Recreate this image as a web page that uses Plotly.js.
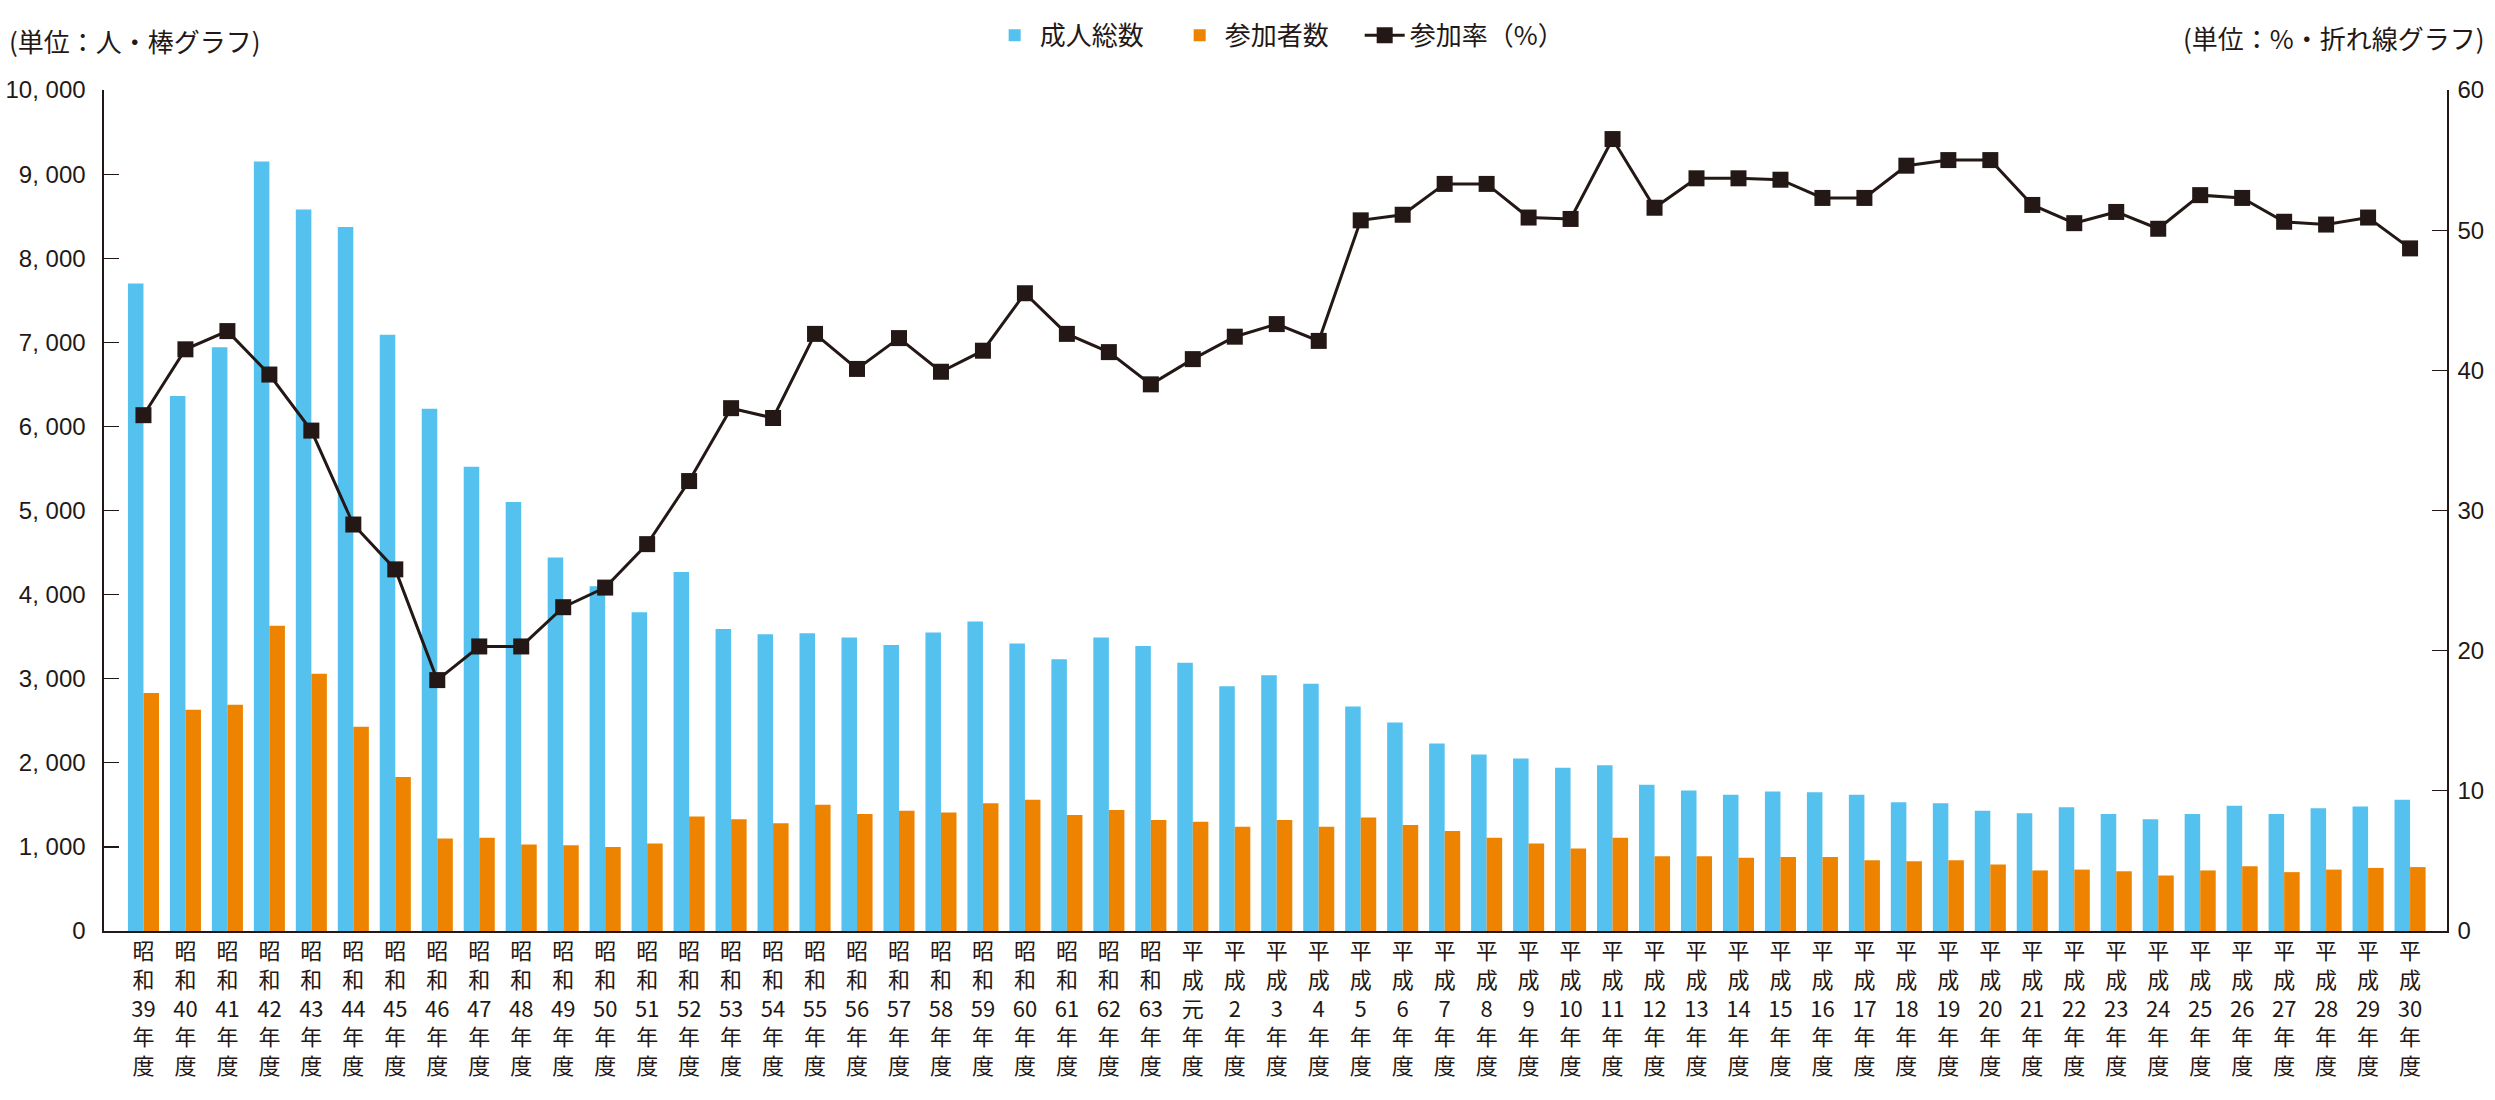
<!DOCTYPE html>
<html>
<head>
<meta charset="utf-8">
<script src="https://cdn.plot.ly/plotly-3.0.1.min.js"></script>
<style>
html,body{margin:0;padding:0;background:#fff;}
#chart{width:2495px;height:1100px;}
</style>
</head>
<body>
<div id="chart"></div>
<script>
const categories = [
  "昭<br>和<br>39<br>年<br>度","昭<br>和<br>40<br>年<br>度","昭<br>和<br>41<br>年<br>度","昭<br>和<br>42<br>年<br>度","昭<br>和<br>43<br>年<br>度",
  "昭<br>和<br>44<br>年<br>度","昭<br>和<br>45<br>年<br>度","昭<br>和<br>46<br>年<br>度","昭<br>和<br>47<br>年<br>度","昭<br>和<br>48<br>年<br>度",
  "昭<br>和<br>49<br>年<br>度","昭<br>和<br>50<br>年<br>度","昭<br>和<br>51<br>年<br>度","昭<br>和<br>52<br>年<br>度","昭<br>和<br>53<br>年<br>度",
  "昭<br>和<br>54<br>年<br>度","昭<br>和<br>55<br>年<br>度","昭<br>和<br>56<br>年<br>度","昭<br>和<br>57<br>年<br>度","昭<br>和<br>58<br>年<br>度",
  "昭<br>和<br>59<br>年<br>度","昭<br>和<br>60<br>年<br>度","昭<br>和<br>61<br>年<br>度","昭<br>和<br>62<br>年<br>度","昭<br>和<br>63<br>年<br>度",
  "平<br>成<br>元<br>年<br>度","平<br>成<br>2<br>年<br>度","平<br>成<br>3<br>年<br>度","平<br>成<br>4<br>年<br>度","平<br>成<br>5<br>年<br>度",
  "平<br>成<br>6<br>年<br>度","平<br>成<br>7<br>年<br>度","平<br>成<br>8<br>年<br>度","平<br>成<br>9<br>年<br>度","平<br>成<br>10<br>年<br>度",
  "平<br>成<br>11<br>年<br>度","平<br>成<br>12<br>年<br>度","平<br>成<br>13<br>年<br>度","平<br>成<br>14<br>年<br>度","平<br>成<br>15<br>年<br>度",
  "平<br>成<br>16<br>年<br>度","平<br>成<br>17<br>年<br>度","平<br>成<br>18<br>年<br>度","平<br>成<br>19<br>年<br>度","平<br>成<br>20<br>年<br>度",
  "平<br>成<br>21<br>年<br>度","平<br>成<br>22<br>年<br>度","平<br>成<br>23<br>年<br>度","平<br>成<br>24<br>年<br>度","平<br>成<br>25<br>年<br>度",
  "平<br>成<br>26<br>年<br>度","平<br>成<br>27<br>年<br>度","平<br>成<br>28<br>年<br>度","平<br>成<br>29<br>年<br>度","平<br>成<br>30<br>年<br>度"
];

const adultsTotal = [
  7700, 6360, 6940, 9150, 8580, 8370, 7090, 6210, 5520, 5100,
  4440, 4100, 3790, 4270, 3590, 3530, 3540, 3490, 3400, 3550,
  3680, 3420, 3230, 3490, 3390, 3190, 2910, 3040, 2940, 2670,
  2480, 2230, 2100, 2050, 1940, 1970, 1740, 1670, 1620, 1660,
  1650, 1620, 1530, 1520, 1430, 1400, 1470, 1390, 1330, 1390,
  1490, 1390, 1460, 1480, 1560
];

const participants = [
  2830, 2630, 2690, 3630, 3060, 2430, 1830, 1100, 1110, 1030,
  1020, 1000, 1040, 1360, 1330, 1280, 1500, 1390, 1430, 1410,
  1520, 1560, 1380, 1440, 1320, 1300, 1240, 1320, 1240, 1350,
  1260, 1190, 1110, 1040, 980, 1110, 890, 890, 870, 880,
  880, 840, 830, 840, 790, 720, 730, 710, 660, 720,
  770, 700, 730, 750, 760
];

const participationRate = [
  36.8, 41.5, 42.8, 39.7, 35.7, 29.0, 25.8, 17.9, 20.3, 20.3,
  23.1, 24.5, 27.6, 32.1, 37.3, 36.6, 42.6, 40.1, 42.3, 39.9,
  41.4, 45.5, 42.6, 41.3, 39.0, 40.8, 42.4, 43.3, 42.1, 50.7,
  51.1, 53.3, 53.3, 50.9, 50.8, 56.5, 51.6, 53.7, 53.7, 53.6,
  52.3, 52.3, 54.6, 55.0, 55.0, 51.8, 50.5, 51.3, 50.1, 52.5,
  52.3, 50.6, 50.4, 50.9, 48.7
];

const leftTickVals = [0,1000,2000,3000,4000,5000,6000,7000,8000,9000,10000];
const leftTickText = ["0","1, 000","2, 000","3, 000","4, 000","5, 000","6, 000","7, 000","8, 000","9, 000","10, 000"];
const rightTickVals = [0,10,20,30,40,50,60];

const seriesNames = ["成人総数","参加者数","参加率（%）"];
const unitLeft = "(単位：人・棒グラフ)";
const unitRight = "(単位：%・折れ線グラフ)";

const jp = '"Noto Sans CJK JP", "Noto Sans", sans-serif';
const num = '"Liberation Sans", "Noto Sans", sans-serif';
const ink = '#231815';
const pad = '\u2002\u2002';

const traces = [
  {type:'bar', name:seriesNames[0] + pad, x:categories, y:adultsTotal,
   marker:{color:'#55C1EF'}, yaxis:'y', hoverinfo:'y'},
  {type:'bar', name:seriesNames[1] + pad, x:categories, y:participants,
   marker:{color:'#EE8300'}, yaxis:'y', hoverinfo:'y'},
  {type:'scatter', mode:'lines+markers', name:seriesNames[2], x:categories, y:participationRate,
   yaxis:'y2', line:{color:ink, width:3}, marker:{symbol:'square', size:16, color:ink}}
];

const layout = {
  width:2495, height:1100,
  margin:{l:104, r:48, t:86, b:169},
  paper_bgcolor:'#fff', plot_bgcolor:'#fff',
  font:{family:jp, size:24, color:ink},
  barmode:'group', bargap:0.26, bargroupgap:0,
  showlegend:true,
  legend:{orientation:'h', x:0.378, xanchor:'left', y:1.065, yanchor:'middle',
          font:{family:jp, size:26, color:ink}, traceorder:'normal', itemwidth:40},
  xaxis:{type:'category', range:[-0.94, 54.88], showline:true, linecolor:ink, linewidth:2,
         ticks:'', showgrid:false, zeroline:false, tickangle:0,
         tickfont:{family:jp, size:22, color:ink}, fixedrange:true},
  yaxis:{range:[0,10000], tickvals:leftTickVals, ticktext:leftTickText,
         showline:true, linecolor:ink, linewidth:1.6, ticks:'inside', ticklen:15, tickwidth:1.2, tickcolor:ink,
         showgrid:false, zeroline:false, ticklabelstandoff:12,
         tickfont:{family:num, size:24, color:ink}},
  yaxis2:{range:[0,60], tickvals:rightTickVals, overlaying:'y', side:'right',
          showline:true, linecolor:ink, linewidth:1.6, ticks:'inside', ticklen:15, tickwidth:1.2, tickcolor:ink,
          showgrid:false, zeroline:false, ticklabelstandoff:4,
          tickfont:{family:num, size:24, color:ink}},
  annotations:[
    {text:unitLeft, xref:'paper', yref:'paper', x:-0.0414, y:1.059, xanchor:'left', yanchor:'middle',
     showarrow:false, font:{family:jp, size:26, color:ink}},
    {text:unitRight, xref:'paper', yref:'paper', x:1.017, y:1.063, xanchor:'right', yanchor:'middle',
     showarrow:false, font:{family:jp, size:26, color:ink}}
  ]
};

Plotly.newPlot('chart', traces, layout, {displayModeBar:false, staticPlot:true});
</script>
</body>
</html>
